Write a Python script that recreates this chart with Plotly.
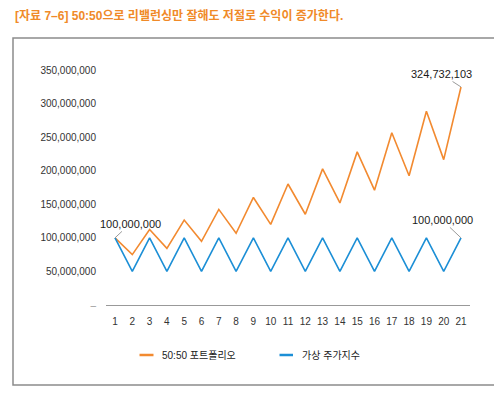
import plotly.graph_objects as go

periods = list(range(1, 22))
portfolio = [100000000, 75000000, 112500000, 84375000, 126562500, 94921875,
             142382813, 106787109, 160180664, 120135498, 180203247, 135152435,
             202728653, 152046490, 228069735, 171052301, 256578452, 192433839,
             288650758, 216488069, 324732103]
index_vals = [100000000, 50000000, 100000000, 50000000, 100000000, 50000000,
              100000000, 50000000, 100000000, 50000000, 100000000, 50000000,
              100000000, 50000000, 100000000, 50000000, 100000000, 50000000,
              100000000, 50000000, 100000000]
series_names = ["50:50 포트폴리오", "가상 주가지수"]
y_tickvals = [0, 50000000, 100000000, 150000000, 200000000, 250000000, 300000000, 350000000]
y_ticktext = ["<span style='color:#9a9a9a'>–</span>", "50,000,000", "100,000,000", "150,000,000",
              "200,000,000", "250,000,000", "300,000,000", "350,000,000"]
title_text = "[자료 7–6] 50:50으로 리밸런싱만 잘해도 저절로 수익이 증가한다."

ORANGE = "#F28A30"
BLUE = "#1C8FD6"
FONT = "Liberation Sans, Arial, Noto Sans CJK KR, sans-serif"

# page body has an 8px margin; work in screen pixels and convert
OFF = 8
W, H = 502 - OFF, 395 - OFF
# plot area in screen pixels
SX0, SX1, SY0, SY1 = 106, 470, 70, 305
L, R, T, B = SX0 - OFF, W - (SX1 - OFF), SY0 - OFF, H - (SY1 - OFF)
pw, ph = SX1 - SX0, SY1 - SY0


def px(x):
    return (x - SX0) / pw


def py(y):
    return (SY1 - y) / ph


fig = go.Figure()
fig.add_trace(go.Scatter(x=periods, y=portfolio, mode="lines", name=series_names[0],
                         line=dict(color=ORANGE, width=1.6), showlegend=False))
fig.add_trace(go.Scatter(x=periods, y=index_vals, mode="lines", name=series_names[1],
                         line=dict(color=BLUE, width=1.6), showlegend=False))

shapes = [
    dict(type="rect", xref="paper", yref="paper", x0=px(13), x1=px(495), y0=py(385), y1=py(38),
         line=dict(color="#8c8c8c", width=1.5), fillcolor="rgba(0,0,0,0)", layer="below"),
    dict(type="line", xref="paper", yref="paper", x0=px(139.5), x1=px(153.5), y0=py(355), y1=py(355),
         line=dict(color=ORANGE, width=2.5)),
    dict(type="line", xref="paper", yref="paper", x0=px(279.5), x1=px(293), y0=py(355), y1=py(355),
         line=dict(color=BLUE, width=2.5)),
]

annotations = [
    dict(xref="paper", yref="paper", x=px(13), y=py(16), text="<b>" + title_text + "</b>",
         showarrow=False, xanchor="left", yanchor="middle",
         font=dict(family="Liberation Sans, Noto Sans CJK KR, sans-serif", size=12, color="#F08A28")),
    dict(xref="paper", yref="paper", x=px(160), y=py(355), text=series_names[0], showarrow=False,
         xanchor="left", yanchor="middle", font=dict(family=FONT, size=10, color="#222")),
    dict(xref="paper", yref="paper", x=px(299.5), y=py(355), text=series_names[1], showarrow=False,
         xanchor="left", yanchor="middle", font=dict(family=FONT, size=10, color="#222")),
    dict(x=periods[0], y=portfolio[0], text=f"{portfolio[0]:,}", showarrow=True, arrowhead=0,
         arrowwidth=1, arrowcolor="#9a9a9a", ax=15, ay=-14,
         font=dict(family=FONT, size=11, color="#1a1a1a")),
    dict(x=periods[-1], y=portfolio[-1], text=f"{portfolio[-1]:,}", showarrow=True, arrowhead=0,
         arrowwidth=1, arrowcolor="#9a9a9a", ax=-20, ay=-13,
         font=dict(family=FONT, size=11, color="#1a1a1a")),
    dict(x=periods[-1], y=index_vals[-1], text=f"{index_vals[-1]:,}", showarrow=True, arrowhead=0,
         arrowwidth=1, arrowcolor="#9a9a9a", ax=-19, ay=-18,
         font=dict(family=FONT, size=11, color="#1a1a1a")),
]

fig.update_layout(
    width=W, height=H,
    margin=dict(l=L, r=R, t=T, b=B),
    paper_bgcolor="white", plot_bgcolor="white",
    font=dict(family=FONT, size=10, color="#333"),
    shapes=shapes, annotations=annotations,
    showlegend=False,
)
fig.update_xaxes(range=[0.48, 21.52], tickmode="array", tickvals=periods,
                 ticktext=[str(p) for p in periods], showgrid=False, zeroline=False,
                 showline=True, linecolor="#999", linewidth=1, ticks="", automargin=False,
                 ticklabelstandoff=7, tickfont=dict(family=FONT, size=10, color="#333"))
fig.update_yaxes(range=[0, 350000000], tickmode="array", tickvals=y_tickvals, ticktext=y_ticktext,
                 showgrid=False, zeroline=False, showline=False, ticks="", automargin=False,
                 ticklabelstandoff=9, tickfont=dict(family=FONT, size=10, color="#333"))

fig.write_html("out.html")
